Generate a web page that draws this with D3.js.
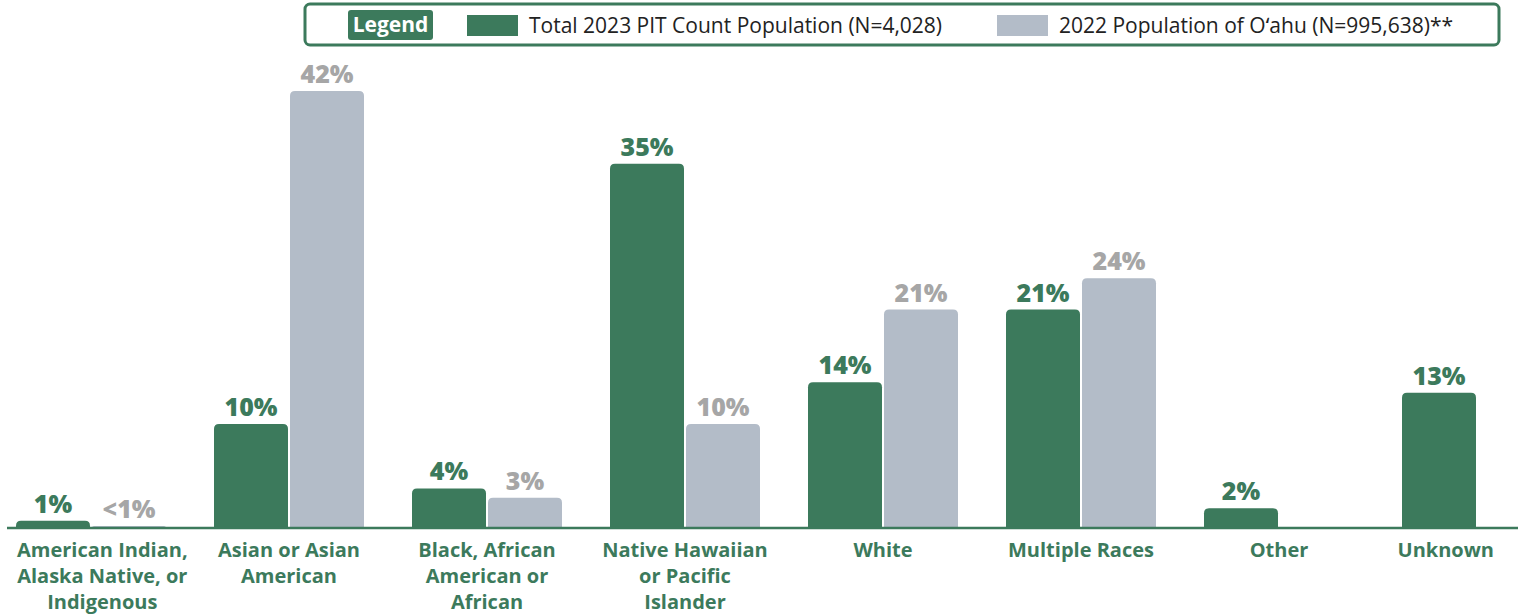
<!DOCTYPE html>
<html>
<head>
<meta charset="utf-8">
<script src="https://cdnjs.cloudflare.com/ajax/libs/d3/7.8.5/d3.min.js"></script>
<style>
  body { margin: 0; background: #fff; }
  svg text { font-family: "Open Sans", "Noto Sans", sans-serif; }
</style>
</head>
<body>
<script>
// categories, each label split into wrapped lines
var categories = ["American Indian, Alaska Native, or Indigenous", "Asian or Asian American",
  "Black, African American or African", "Native Hawaiian or Pacific Islander",
  "White", "Multiple Races", "Other", "Unknown"];
var categoryLines = [["American Indian,", "Alaska Native, or", "Indigenous"], ["Asian or Asian", "American"],
  ["Black, African", "American or", "African"], ["Native Hawaiian", "or Pacific", "Islander"],
  ["White"], ["Multiple Races"], ["Other"], ["Unknown"]];
var seriesNames = ["Total 2023 PIT Count Population (N=4,028)", "2022 Population of O\u02BBahu (N=995,638)**"];
var pitValues = [0.7, 10, 3.8, 35, 14, 21, 1.9, 13];
var pitLabels = ["1%", "10%", "4%", "35%", "14%", "21%", "2%", "13%"];
var oahuValues = [0.2, 42, 2.9, 10, 21, 24, null, null];
var oahuLabels = ["<1%", "42%", "3%", "10%", "21%", "24%", "", ""];

var W = 1524, H = 615;
var green = "#3c7a5c", grey = "#b3bcc8", greyText = "#a6a6a6";

var svg = d3.select("body").append("svg").attr("width", W).attr("height", H);

var x = d3.scaleBand().domain(categories).range([16, 1552]).paddingInner(48 / 198).paddingOuter(0);
var xs = d3.scaleBand().domain([0, 1]).range([0, x.bandwidth()]).paddingInner(0.0263);
var y = d3.scaleLinear().domain([0, 42]).range([528, 91]);

function topRounded(x0, y0, w, h, r) {
  r = Math.min(r, h, w / 2);
  return "M" + x0 + "," + (y0 + h) + "V" + (y0 + r) + "Q" + x0 + "," + y0 + " " + (x0 + r) + "," + y0 +
    "H" + (x0 + w - r) + "Q" + (x0 + w) + "," + y0 + " " + (x0 + w) + "," + (y0 + r) + "V" + (y0 + h) + "Z";
}

var rows = categories.map(function(c, i) {
  return { cat: c, lines: categoryLines[i],
    vals: [{ s: 0, v: pitValues[i], t: pitLabels[i] }, { s: 1, v: oahuValues[i], t: oahuLabels[i] }] };
});

var g = svg.selectAll("g.cat").data(rows).enter().append("g")
  .attr("class", "cat")
  .attr("transform", function(d) { return "translate(" + x(d.cat) + ",0)"; });

var bars = g.selectAll("g.bar").data(function(d) { return d.vals.filter(function(v) { return v.v != null; }); })
  .enter().append("g").attr("class", "bar");

bars.append("path")
  .attr("d", function(d) { return topRounded(xs(d.s), y(d.v), xs.bandwidth(), y(0) - y(d.v), 5); })
  .attr("fill", function(d) { return d.s === 0 ? green : grey; });

bars.append("text")
  .attr("x", function(d) { return xs(d.s) + xs.bandwidth() / 2; })
  .attr("y", function(d) { return y(d.v) - 8; })
  .attr("text-anchor", "middle")
  .attr("font-size", 25).attr("font-weight", 800)
  .attr("fill", function(d) { return d.s === 0 ? green : greyText; })
  .text(function(d) { return d.t; });

// baseline
svg.append("line").attr("x1", 7).attr("x2", 1518).attr("y1", y(0)).attr("y2", y(0))
  .attr("stroke", green).attr("stroke-width", 2.5);

// category labels, kept inside the plot edges
var labels = g.append("text")
  .attr("text-anchor", "middle")
  .attr("font-size", 20).attr("font-weight", 700).attr("fill", green);
labels.selectAll("tspan").data(function(d) { return d.lines; }).enter().append("tspan")
  .attr("x", x.bandwidth() / 2)
  .attr("y", function(d, i) { return 557 + i * 26; })
  .text(function(d) { return d; });
labels.each(function(d) {
  var b = this.getBBox(), off = x(d.cat);
  var shift = 0;
  if (off + b.x < 17) shift = 17 - (off + b.x);
  if (off + b.x + b.width > 1494) shift = 1494 - (off + b.x + b.width);
  d3.select(this).attr("transform", "translate(" + shift + ",0)");
});

// legend
var lg = svg.append("g");
lg.append("rect").attr("x", 305).attr("y", 4).attr("width", 1194).attr("height", 41)
  .attr("rx", 5).attr("fill", "#fff").attr("stroke", green).attr("stroke-width", 3);
lg.append("rect").attr("x", 348).attr("y", 10).attr("width", 85).attr("height", 30)
  .attr("rx", 3).attr("fill", green);
lg.append("text").attr("x", 390.5).attr("y", 32).attr("text-anchor", "middle")
  .attr("font-size", 21).attr("font-weight", 700).attr("fill", "#fff").text("Legend");
var lx = [467, 997];
seriesNames.forEach(function(n, i) {
  lg.append("rect").attr("x", lx[i]).attr("y", 15).attr("width", 51).attr("height", 21)
    .attr("fill", i === 0 ? green : grey);
  lg.append("text").attr("x", lx[i] + 62).attr("y", 33).attr("font-size", 21)
    .attr("fill", "#222").text(n);
});
</script>
</body>
</html>
